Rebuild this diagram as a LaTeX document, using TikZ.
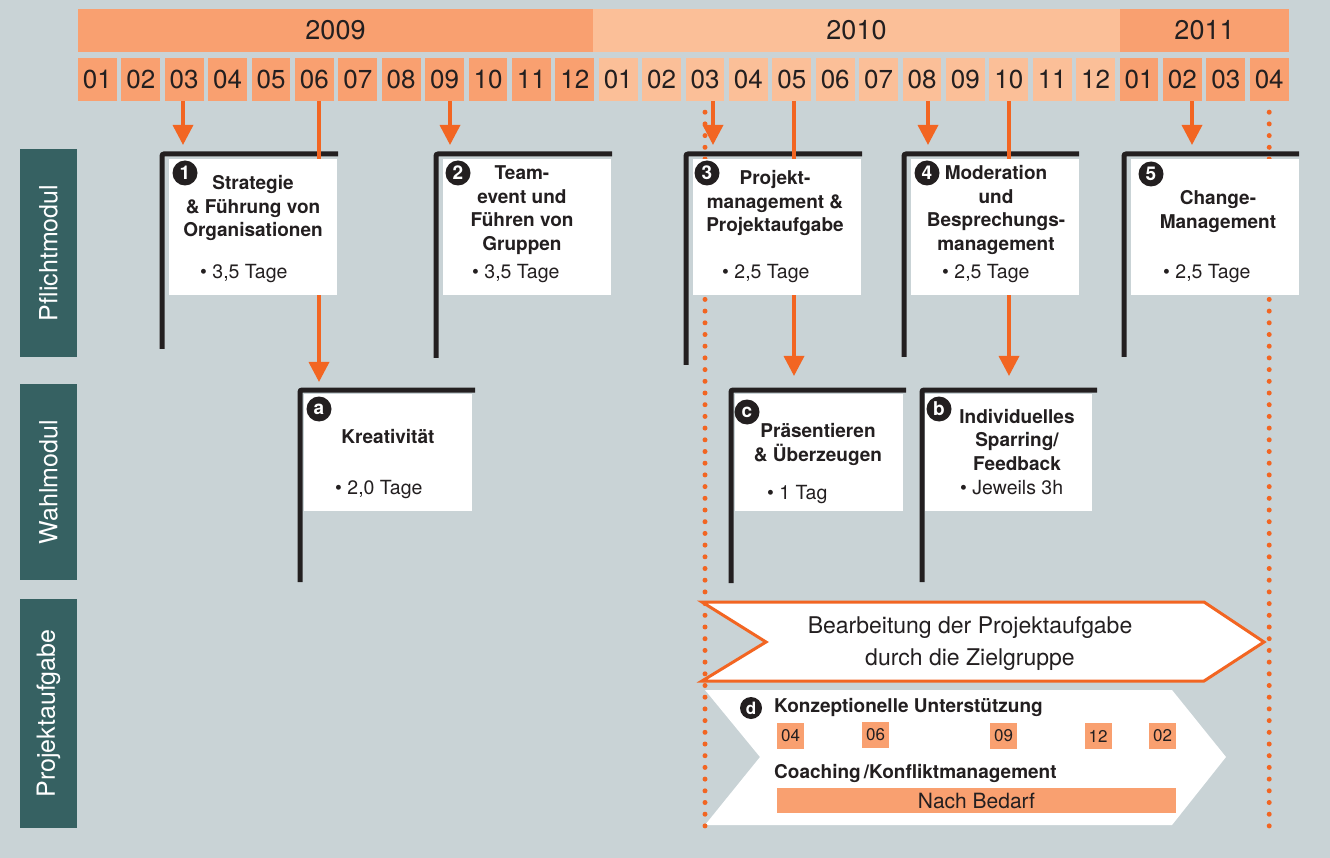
\documentclass[tikz,border=0pt]{standalone}
\usepackage{fontspec}
\setmainfont{TeX Gyre Heros}
\usetikzlibrary{arrows.meta}
\definecolor{bgrey}{RGB}{201,211,214}
\definecolor{mdark}{RGB}{249,160,112}
\definecolor{mlight}{RGB}{251,191,152}
\definecolor{accent}{RGB}{242,101,34}
\definecolor{ink}{RGB}{35,31,32}
\definecolor{sidebar}{RGB}{54,97,98}
\begin{document}
\begin{tikzpicture}[x=1pt,y=-1pt]
    \tikzstyle{every node}+=[inner sep=0pt, text=ink]
    \tikzstyle{year}=[minimum height=43, font=\fontsize{27}{27}\selectfont]
    \tikzstyle{month}=[minimum width=38.8, minimum height=43, font=\fontsize{26}{26}\selectfont]
    \tikzstyle{sidebox}=[fill=sidebar, text=white, minimum height=57, rotate=90, font=\fontsize{25}{25}\selectfont]
    \tikzstyle{flag}=[draw=ink, line width=5, rounded corners=2]
    \tikzstyle{mod}=[fill=white, minimum width=168]
    \tikzstyle{num}=[circle, fill=ink, text=white, minimum size=25, font=\bfseries\fontsize{19}{19}\selectfont]
    \tikzstyle{ttl}=[align=center, font=\bfseries\fontsize{19}{23.5}\selectfont]
    \tikzstyle{days}=[anchor=west, font=\fontsize{19.5}{19.5}\selectfont]
    \tikzstyle{tag}=[fill=mdark, minimum width=27, minimum height=26, font=\fontsize{17}{17}\selectfont]
    \tikzstyle{arr}=[accent, line width=3.5, -{Triangle[width=20pt,length=20pt]}]
    \tikzstyle{guide}=[accent, line width=5, line cap=round, dash pattern=on 0pt off 11.7pt]
    \fill [bgrey] (0,0) rectangle (1330,858);
    \useasboundingbox (0,0) rectangle (1330,858);
    \node [year, fill=mdark, minimum width=515] (y2009) at (335.5,30.5) {2009};
    \node [year, fill=mlight, minimum width=527] (y2010) at (856.5,30.5) {2010};
    \node [year, fill=mdark, minimum width=169] (y2011) at (1204.5,30.5) {2011};
    \foreach \yr/\col/\off/\cnt in {2009/mdark/0/12, 2010/mlight/12/12, 2011/mdark/24/4}
        \foreach \k in {1,...,\cnt}
            \node [month, fill=\col] (\yr-\k) at ({97.4+43.4*(\off+\k-1)},79.5) {\ifnum\k<10 0\fi\k};
    \node [sidebox, minimum width=208] (pflicht) at (48.5,253) {Pflichtmodul};
    \node [sidebox, minimum width=196] (wahl) at (48.5,482) {Wahlmodul};
    \node [sidebox, minimum width=229] (projekt) at (48.5,713.5) {Projektaufgabe};
    \draw [flag] (338,154) -| (162,349);
    \draw [flag] (612,154) -| (436,358);
    \draw [flag] (862,154) -| (686,365);
    \draw [flag] (1079,154) -| (904,357);
    \draw [flag] (1299,154) -| (1124,357);
    \draw [flag] (475,390) -| (300,582);
    \draw [flag] (906,390) -| (731,583);
    \draw [flag] (1097,390) -| (922,582);
    \filldraw [fill=white, draw=accent, line width=3] (702,602) -- (1204,602) -- (1264,642) -- (1204,681) -- (702,681) -- (766,642) -- cycle;
    \fill [white] (705,690) -- (1172,690) -- (1226,757) -- (1172,825) -- (705,825) -- (760,757) -- cycle;
    \coordinate (t1) at (183,145);
    \coordinate (t2) at (450,145);
    \coordinate (t3) at (713,145);
    \coordinate (t4) at (928,145);
    \coordinate (t5) at (1192,145);
    \coordinate (ta) at (319,382);
    \coordinate (tc) at (794,376);
    \coordinate (tb) at (1009,376);
    \draw [arr] (2009-3.south -| t1) -- (t1);
    \draw [arr] (2009-9.south -| t2) -- (t2);
    \draw [arr] (2010-3.south -| t3) -- (t3);
    \draw [arr] (2010-8.south -| t4) -- (t4);
    \draw [arr] (2011-2.south -| t5) -- (t5);
    \draw [arr] (2009-6.south -| ta) -- (ta);
    \draw [arr] (2010-5.south -| tc) -- (tc);
    \draw [arr] (2010-10.south -| tb) -- (tb);
    \draw [guide] ([yshift=-11pt]2010-3.south) -- ++(0,714);
    \draw [guide] ([yshift=-11pt]2011-4.south) -- ++(0,714);
    \node [mod, minimum height=136] (p1) at (253,227) {};
    \node [num] (p1-n) at (185,173) {1};
    \node [ttl] (p1-t) at (253,208) {Strategie\\\& Führung von\\Organisationen};
    \node [days] (p1-d) at (200,274) {\textbullet\ 3,5 Tage};
    \node [mod, minimum height=136] (p2) at (527,227) {};
    \node [num] (p2-n) at (458,173) {2};
    \node [ttl] (p2-t) at (522,210) {Team-\\event und\\Führen von\\Gruppen};
    \node [days] (p2-d) at (472,274) {\textbullet\ 3,5 Tage};
    \node [mod, minimum height=136] (p3) at (777,227) {};
    \node [num] (p3-n) at (707,173) {3};
    \node [ttl] (p3-t) at (775,203) {Projekt-\\management \&\\Projektaufgabe};
    \node [days] (p3-d) at (722,274) {\textbullet\ 2,5 Tage};
    \node [mod, minimum height=136] (p4) at (995,227) {};
    \node [num] (p4-n) at (927,173) {4};
    \node [ttl] (p4-t) at (996,210) {Moderation\\und\\Besprechungs-\\management};
    \node [days] (p4-d) at (942,274) {\textbullet\ 2,5 Tage};
    \node [mod, minimum height=136] (p5) at (1215,227) {};
    \node [num] (p5-n) at (1151,174) {5};
    \node [ttl] (p5-t) at (1218,211.5) {Change-\\Management};
    \node [days] (p5-d) at (1163,274) {\textbullet\ 2,5 Tage};
    \node [mod, minimum height=117] (wa) at (388,452.5) {};
    \node [num] (wa-n) at (319,409) {a};
    \node [ttl] (wa-t) at (388,437) {Kreativität};
    \node [days] (wa-d) at (335,490) {\textbullet\ 2,0 Tage};
    \node [mod, minimum height=117] (wc) at (819,452.5) {};
    \node [num] (wc-n) at (747,412) {c};
    \node [ttl] (wc-t) at (818,444.5) {Präsentieren\\\& Überzeugen};
    \node [days] (wc-d) at (767,495) {\textbullet\ 1 Tag};
    \node [mod, minimum height=117, minimum width=167] (wb) at (1008.5,452.5) {};
    \node [num] (wb-n) at (939,409) {b};
    \node [ttl] (wb-t) at (1017,440) {Individuelles\\Sparring/\\Feedback};
    \node [days] (wb-d) at (960,488) {\textbullet\ Jeweils 3h};
    \node [align=center, font=\fontsize{23}{32}\selectfont] (bearb) at (970,644) {Bearbeitung der Projektaufgabe\\durch die Zielgruppe};
    \node [num, minimum size=22, font=\bfseries\fontsize{17}{17}\selectfont] (d-n) at (751,708) {d};
    \node [ttl, anchor=west] (d-t) at (774,707) {Konzeptionelle Unterstützung};
    \node [tag] (d-04) at (790.5,735.5) {04};
    \node [tag] (d-06) at (875.5,734.5) {06};
    \node [tag] (d-09) at (1003.5,736) {09};
    \node [tag] (d-12) at (1098,736) {12};
    \node [tag] (d-02) at (1162.5,736) {02};
    \node [ttl, anchor=west] (coach) at (774,773) {Coaching\,/Konfliktmanagement};
    \node [tag, minimum width=399, minimum height=25, font=\fontsize{21}{21}\selectfont] (bedarf) at (976.5,800.5) {Nach Bedarf};
\end{tikzpicture}
\end{document}
